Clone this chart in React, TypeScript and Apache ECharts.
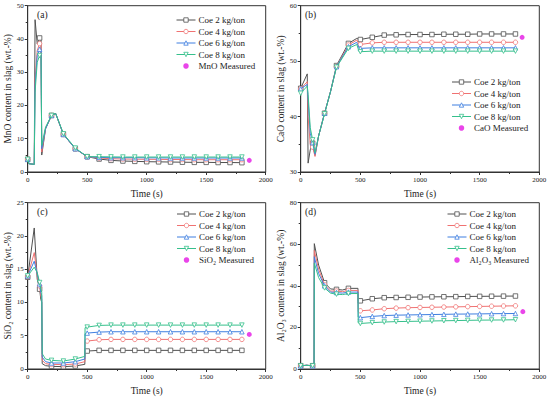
import { useEffect, useRef } from "react";
import * as echarts from "echarts";

const SERIES_NAMES = ["Coe 2 kg/ton", "Coe 4 kg/ton", "Coe 6 kg/ton", "Coe 8 kg/ton"];
const COLORS = ["#505050", "#f07272", "#3f7fe0", "#36c08c"];
const SYMBOLS = ["rect", "circle", "triangle", "triangle"];
const ROTATE = [0, 0, 0, 180];
const MEASURED_COLOR = "#e316e3";
const FONT = "Liberation Serif";

// ---------- (a) MnO ----------
const timesA = [0, 10, 55, 62, 80, 100, 112, 118, 150, 200, 235, 300, 400, 500, 600, 700, 800, 900, 1000, 1100, 1200, 1300, 1400, 1500, 1600, 1700, 1800];
const mnoCoe2 = [3.8, 2.5, 2.3, 45.8, 38.5, 40.3, 40.0, 5.1, 13.0, 17.0, 17.6, 11.3, 7.0, 4.6, 3.9, 3.5, 3.3, 3.2, 3.1, 3.05, 3.0, 2.95, 2.9, 2.9, 2.85, 2.85, 2.8];
const mnoCoe4 = [3.8, 2.5, 2.3, 28.0, 36.5, 38.6, 38.5, 6.0, 13.0, 17.0, 17.6, 11.3, 7.0, 4.6, 4.2, 4.0, 3.9, 3.85, 3.8, 3.8, 3.75, 3.75, 3.7, 3.7, 3.7, 3.7, 3.7];
const mnoCoe6 = [3.8, 2.5, 2.3, 26.0, 35.0, 36.9, 36.8, 7.0, 13.0, 17.0, 17.6, 11.3, 7.0, 4.6, 4.4, 4.3, 4.3, 4.3, 4.25, 4.25, 4.2, 4.2, 4.2, 4.2, 4.2, 4.2, 4.2];
const mnoCoe8 = [3.8, 2.5, 2.3, 24.0, 33.0, 35.0, 35.0, 8.0, 13.5, 17.0, 17.6, 11.5, 7.2, 4.6, 4.6, 4.55, 4.5, 4.5, 4.5, 4.5, 4.5, 4.5, 4.5, 4.5, 4.5, 4.5, 4.5];
const mnoMeasured = [1862, 3.5];

// ---------- (b) CaO ----------
const timesB = [0, 55, 62, 80, 100, 120, 150, 200, 250, 300, 400, 470, 490, 500, 600, 700, 800, 900, 1000, 1100, 1200, 1300, 1400, 1500, 1600, 1700, 1800];
const caoCoe2 = [45.1, 47.7, 31.6, 34.0, 35.2, 33.0, 36.5, 40.6, 44.5, 49.2, 53.2, 54.1, 53.9, 53.9, 54.3, 54.7, 54.75, 54.8, 54.8, 54.8, 54.85, 54.85, 54.85, 54.9, 54.9, 54.9, 54.9];
const caoCoe4 = [45.0, 46.3, 40.0, 35.0, 34.5, 32.8, 36.5, 40.6, 44.5, 49.0, 52.9, 53.8, 53.0, 53.0, 53.3, 53.4, 53.4, 53.4, 53.4, 53.4, 53.4, 53.4, 53.4, 53.4, 53.4, 53.4, 53.4];
const caoCoe6 = [45.0, 45.8, 43.0, 37.0, 35.3, 33.2, 36.5, 40.6, 44.5, 49.0, 52.6, 53.4, 52.3, 52.3, 52.4, 52.4, 52.4, 52.4, 52.4, 52.4, 52.4, 52.4, 52.4, 52.4, 52.4, 52.4, 52.4];
const caoCoe8 = [44.2, 45.5, 44.0, 38.0, 35.8, 33.5, 36.5, 40.5, 44.5, 48.9, 52.3, 53.0, 51.7, 51.7, 51.8, 51.8, 51.8, 51.8, 51.8, 51.8, 51.8, 51.8, 51.8, 51.8, 51.8, 51.8, 51.8];
const caoMeasured = [1856, 54.3];

// ---------- (c) SiO2 ----------
const timesC = [0, 55, 80, 100, 110, 118, 122, 150, 200, 300, 400, 480, 482, 500, 600, 700, 800, 900, 1000, 1100, 1200, 1300, 1400, 1500, 1600, 1700, 1800];
const sioCoe2 = [13.8, 21.2, 13.5, 12.0, 10.5, 10.0, 0.8, 0.5, 0.4, 0.35, 0.45, 0.7, 2.6, 2.7, 2.8, 2.8, 2.8, 2.8, 2.8, 2.8, 2.8, 2.8, 2.8, 2.8, 2.8, 2.8, 2.8];
const sioCoe4 = [13.9, 17.5, 14.0, 12.5, 11.0, 10.5, 1.3, 0.8, 0.7, 0.65, 0.75, 1.1, 4.1, 4.2, 4.4, 4.45, 4.45, 4.45, 4.45, 4.45, 4.45, 4.45, 4.45, 4.45, 4.45, 4.45, 4.45];
const sioCoe6 = [14.0, 16.2, 14.3, 12.8, 11.5, 11.0, 1.8, 1.1, 0.9, 0.9, 1.1, 1.5, 5.3, 5.4, 5.55, 5.6, 5.6, 5.6, 5.6, 5.6, 5.6, 5.6, 5.6, 5.6, 5.6, 5.6, 5.6];
const sioCoe8 = [14.0, 15.3, 14.5, 13.0, 12.0, 11.5, 2.3, 1.5, 1.3, 1.2, 1.5, 1.9, 6.2, 6.3, 6.55, 6.6, 6.6, 6.6, 6.6, 6.6, 6.6, 6.6, 6.6, 6.6, 6.6, 6.6, 6.6];
const sioMeasured = [1862, 5.2];

// ---------- (d) Al2O3 ----------
const timesD = [0, 50, 100, 112, 114, 150, 200, 250, 300, 350, 400, 480, 482, 500, 600, 700, 800, 900, 1000, 1100, 1200, 1300, 1400, 1500, 1600, 1700, 1800];
const alCoe2 = [1.6, 1.8, 1.6, 1.8, 60.3, 50.0, 41.5, 38.5, 38.3, 38.0, 38.8, 38.8, 33.0, 32.8, 33.8, 34.3, 34.4, 34.5, 34.6, 34.7, 34.75, 34.8, 34.9, 34.95, 35.0, 35.05, 35.1];
const alCoe4 = [1.5, 1.8, 1.5, 1.8, 57.0, 48.0, 40.5, 37.5, 37.5, 37.2, 37.8, 37.8, 28.5, 28.0, 28.4, 29.0, 29.3, 29.5, 29.6, 29.7, 29.8, 29.9, 30.0, 30.1, 30.2, 30.3, 30.4];
const alCoe6 = [1.5, 1.8, 1.5, 1.8, 54.0, 46.0, 40.0, 37.0, 36.8, 36.5, 37.0, 37.0, 25.0, 24.7, 25.3, 25.7, 25.9, 26.0, 26.1, 26.2, 26.3, 26.4, 26.45, 26.5, 26.6, 26.65, 26.7];
const alCoe8 = [1.5, 1.8, 1.5, 1.8, 51.0, 44.0, 39.0, 36.5, 36.0, 35.8, 36.3, 36.3, 22.2, 21.9, 22.3, 22.6, 22.8, 22.9, 23.0, 23.1, 23.2, 23.3, 23.4, 23.5, 23.55, 23.6, 23.7];
const alMeasured = [1862, 27.6];

// axis setup
const X_TICKS = { min: 0, max: 2000, interval: 500 };
const Y_RANGES = [
  { min: 0, max: 50, interval: 10 },
  { min: 30, max: 60, interval: 10 },
  { min: 0, max: 25, interval: 5 },
  { min: 0, max: 80, interval: 20 },
];
const Y_NAMES = [
  "MnO content in slag (wt.-%)",
  "CaO content in slag (wt.-%)",
  "SiO₂ content in slag (wt.-%)",
  "Al₂O₃ content in slag (wt.-%)",
];
const MEASURED_NAMES = ["MnO Measured", "CaO Measured", "SiO₂ Measured", "Al₂O₃ Measured"];
const PANEL_LABELS = ["(a)", "(b)", "(c)", "(d)"];

const PANELS = [
  { times: timesA, values: [mnoCoe2, mnoCoe4, mnoCoe6, mnoCoe8], measured: mnoMeasured },
  { times: timesB, values: [caoCoe2, caoCoe4, caoCoe6, caoCoe8], measured: caoMeasured },
  { times: timesC, values: [sioCoe2, sioCoe4, sioCoe6, sioCoe8], measured: sioMeasured },
  { times: timesD, values: [alCoe2, alCoe4, alCoe6, alCoe8], measured: alMeasured },
];

const GRIDS = [
  { left: 27.7, top: 5.7, width: 238, height: 166.3 },
  { left: 300.7, top: 5.7, width: 238.6, height: 166.3 },
  { left: 27.7, top: 202.7, width: 238, height: 166.6 },
  { left: 300.7, top: 202.7, width: 238.6, height: 166.6 },
];
const LEGEND_POS = [
  { left: 176, top: 15.5 },
  { left: 451.5, top: 77.5 },
  { left: 176.5, top: 209.5 },
  { left: 447, top: 209.5 },
];
const LABEL_POS = [
  { x: 37, y: 10 },
  { x: 305, y: 10 },
  { x: 37, y: 207 },
  { x: 305, y: 207 },
];

function buildOption() {
  const axisLine = { show: true, lineStyle: { color: "#333", width: 1 } };
  const xAxis = GRIDS.map((_, g) => ({
    type: "value",
    gridIndex: g,
    ...X_TICKS,
    axisLine,
    axisTick: { show: true, length: 3, inside: false, lineStyle: { color: "#333" } },
    minorTick: { show: true, splitNumber: 2, length: 2, lineStyle: { color: "#333" } },
    splitLine: { show: false },
    axisLabel: { fontSize: 7, fontFamily: FONT, color: "#222", margin: 4, formatter: (v: number) => String(v) },
    name: "Time (s)",
    nameLocation: "middle",
    nameGap: 17,
    nameTextStyle: { fontSize: 9.5, fontFamily: FONT, color: "#222" },
  }));
  const yAxis = GRIDS.map((_, g) => ({
    type: "value",
    gridIndex: g,
    ...Y_RANGES[g],
    axisLine,
    axisTick: { show: true, length: 3, inside: false, lineStyle: { color: "#333" } },
    minorTick: { show: true, splitNumber: 2, length: 2, lineStyle: { color: "#333" } },
    splitLine: { show: false },
    axisLabel: { fontSize: 7, fontFamily: FONT, color: "#222", margin: 4, formatter: (v: number) => String(v) },
    name: Y_NAMES[g],
    nameLocation: "middle",
    nameGap: 12,
    nameTextStyle: { fontSize: 9.5, fontFamily: FONT, color: "#222" },
  }));

  const series: any[] = [];
  PANELS.forEach((p, g) => {
    p.values.forEach((vals, i) => {
      series.push({
        type: "line",
        name: SERIES_NAMES[i],
        xAxisIndex: g,
        yAxisIndex: g,
        data: p.times.map((t, k) => ({
          value: [t, vals[k]],
          symbol: t % 100 === 0 ? SYMBOLS[i] : "none",
        })),
        symbol: SYMBOLS[i],
        symbolSize: 4.5,
        symbolRotate: ROTATE[i],
        showAllSymbol: true,
        smooth: false,
        lineStyle: { color: COLORS[i], width: 1 },
        itemStyle: { color: "#fff", borderColor: COLORS[i], borderWidth: 0.8 },
        z: 2 + i,
        silent: true,
      });
    });
    series.push({
      type: "scatter",
      name: MEASURED_NAMES[g],
      xAxisIndex: g,
      yAxisIndex: g,
      data: [p.measured],
      symbol: "circle",
      symbolSize: 5,
      itemStyle: { color: MEASURED_COLOR },
      z: 10,
      silent: true,
    });
  });

  const legend = GRIDS.map((_, g) => ({
    orient: "vertical",
    left: LEGEND_POS[g].left,
    top: LEGEND_POS[g].top,
    data: [
      ...SERIES_NAMES.map((name, i) => ({
        name,
        itemStyle: { color: "#fff", borderColor: COLORS[i], borderWidth: 0.8 },
        lineStyle: { color: COLORS[i], width: 1 },
      })),
      { name: MEASURED_NAMES[g], itemStyle: { color: MEASURED_COLOR } },
    ],
    itemWidth: 19,
    itemHeight: 5.5,
    itemGap: 2.5,
    padding: 0,
    selectedMode: false,
    textStyle: { fontSize: 9, fontFamily: FONT, color: "#222", lineHeight: 8, padding: [0, 0, 0, -2] },
  }));

  return {
    animation: false,
    backgroundColor: "#fff",
    grid: GRIDS.map((g) => ({ ...g, show: true, borderColor: "#333", borderWidth: 1, containLabel: false })),
    xAxis,
    yAxis,
    legend,
    series,
    graphic: PANEL_LABELS.map((txt, g) => ({
      type: "text",
      x: LABEL_POS[g].x,
      y: LABEL_POS[g].y,
      style: { text: txt, fontSize: 9.5, fontFamily: FONT, fill: "#222" },
      silent: true,
    })),
  };
}

export default function App() {
  const ref = useRef<HTMLDivElement>(null);
  useEffect(() => {
    if (!ref.current) return;
    const chart = echarts.init(ref.current, null, { renderer: "svg" });
    chart.setOption(buildOption() as any);
    return () => chart.dispose();
  }, []);
  return (
    <div
      ref={ref}
      style={{ position: "fixed", left: 0, top: 0, width: 550, height: 397, background: "#fff" }}
    />
  );
}
